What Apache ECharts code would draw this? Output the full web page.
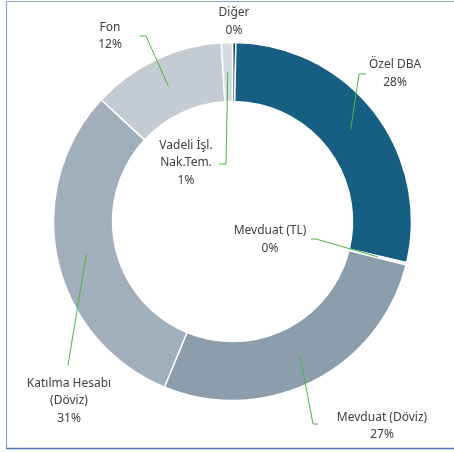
<!DOCTYPE html>
<html>
<head>
<meta charset="utf-8">
<script src="https://cdn.jsdelivr.net/npm/echarts@6/dist/echarts.min.js"></script>
<style>
  html, body { margin: 0; padding: 0; background: #fff; }
  #chart { width: 454px; height: 452px; }
</style>
</head>
<body>
<div id="chart"></div>
<script>
// Portfolio breakdown, clockwise from 12 o'clock (percent of total)
const categories = ['Diğer', 'Özel DBA', 'Mevduat (TL)', 'Mevduat (Döviz)', 'Katılma Hesabı\n(Döviz)', 'Fon', 'Vadeli İşl.\nNak.Tem.'];
const shares = [0.3, 28.4, 0.2, 27.3, 30.7, 12.1, 1.0];
const sliceColors = ['#1d3f5c', '#175f82', '#e6e9ed', '#8c9dab', '#a1aebb', '#c4cbd3', '#d6dbe1'];

// Ring geometry (pixels)
const CX = 232.5, CY = 221.5, R_IN = 120, R_OUT = 179;

// Label block centres and leader-line elbows, by category index
const labelPlacement = [
  { c: [234, 21.5], bend: null },
  { c: [395, 73.5], bend: [[359, 74], [366, 74]] },
  { c: [270, 239.5], bend: [[316, 239], [311, 239]] },
  { c: [382, 426], bend: [[313, 424], [318, 424]] },
  { c: [69, 401], bend: [[68, 365], [68, 365]] },
  { c: [110, 36], bend: [[146, 36], [140, 36]] },
  { c: [186, 163], bend: [[226, 164], [219, 164]] }
];

const chart = echarts.init(document.getElementById('chart'), null, { renderer: 'canvas' });

const ring = {
  type: 'pie',
  center: [CX, CY],
  radius: [R_IN, R_OUT],
  startAngle: 90,
  clockwise: true,
  avoidLabelOverlap: false,
  minShowLabelAngle: 0,
  silent: true
};

const option = {
  animation: false,
  backgroundColor: '#ffffff',
  graphic: [{
    type: 'rect',
    shape: { x: 6.5, y: 1.5, width: 460, height: 447 },
    style: { fill: 'none', stroke: '#86a6cf', lineWidth: 1.2 },
    silent: true
  }, {
    type: 'line',
    shape: { x1: 6, y1: 448.5, x2: 454, y2: 448.5 },
    style: { stroke: '#4f78ab', lineWidth: 1.5 },
    silent: true
  }],
  series: [
    // the coloured ring
    Object.assign({}, ring, {
      z: 2,
      itemStyle: { borderColor: '#ffffff', borderWidth: 1.5 },
      label: { show: false },
      labelLine: { show: false },
      data: categories.map((name, i) => ({
        name: name,
        value: shares[i],
        itemStyle: { color: sliceColors[i] }
      }))
    }),
    // transparent overlay carrying labels and leader lines above the ring
    Object.assign({}, ring, {
      z: 3,
      itemStyle: { color: 'rgba(0,0,0,0)', borderWidth: 0 },
      label: {
        show: true,
        position: 'outside',
        color: '#404040',
        fontFamily: 'Noto Sans',
        fontSize: 12,
        lineHeight: 17.5,
        align: 'center',
        formatter: p => p.name + '\n' + Math.round(p.value) + '%'
      },
      labelLine: {
        show: true,
        length: 10,
        length2: 10,
        lineStyle: { color: '#4cb545', width: 1 }
      },
      labelLayout: params => {
        const place = labelPlacement[params.dataIndex];
        const out = { x: place.c[0], y: place.c[1], align: 'center', verticalAlign: 'middle' };
        const pts = params.labelLinePoints;
        if (place.bend && pts && pts.length) {
          // leader starts mid-ring at the slice's mid-angle
          const dx = pts[0][0] - CX, dy = pts[0][1] - CY;
          const d = Math.sqrt(dx * dx + dy * dy) || 1;
          const rMid = (R_IN + R_OUT) / 2;
          out.labelLinePoints = [[CX + dx / d * rMid, CY + dy / d * rMid]].concat(place.bend);
        }
        return out;
      },
      data: categories.map((name, i) => ({
        name: name,
        value: shares[i],
        labelLine: { show: labelPlacement[i].bend !== null }
      }))
    })
  ]
};

chart.setOption(option);
</script>
</body>
</html>
